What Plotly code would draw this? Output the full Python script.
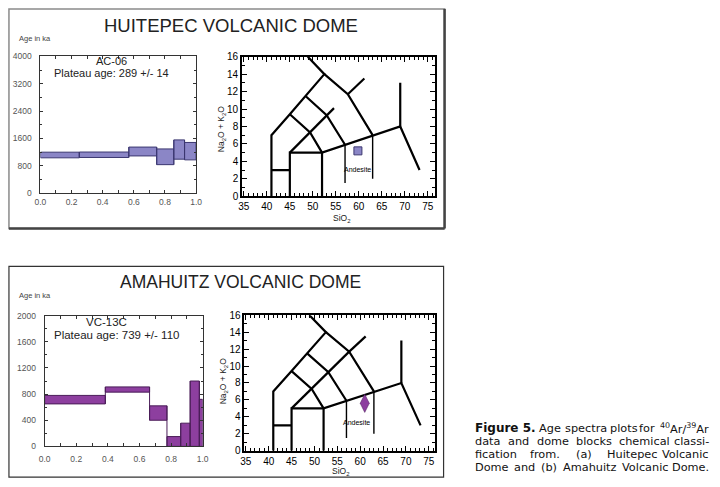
import plotly.graph_objects as go

W, H = 720, 487

# ---------------- DATA ----------------
# (a) Huitepec dome, sample AC-06: 39Ar released fraction steps and age band (ka)
huit_frac_edges = [0.0, 0.25, 0.568, 0.747, 0.857, 0.926, 1.0]
huit_age_lo = [1030, 1040, 1085, 830, 990, 970]
huit_age_hi = [1195, 1200, 1345, 1290, 1555, 1480]

# (b) Amahuitz dome, sample VC-13C
amah_frac_edges = [0.0, 0.384, 0.664, 0.774, 0.861, 0.921, 0.979, 1.0]
amah_age_lo = [650, 830, 400, 0, 0, 0, 0]
amah_age_hi = [780, 910, 620, 150, 355, 1000, 720]

age_frac_ticks = [0.0, 0.2, 0.4, 0.6, 0.8, 1.0]
huit_age_ticks = [0, 800, 1600, 2400, 3200, 4000]
amah_age_ticks = [0, 400, 800, 1200, 1600, 2000]

tas_x_ticks = [35, 40, 45, 50, 55, 60, 65, 70, 75]
tas_y_ticks = [0, 2, 4, 6, 8, 10, 12, 14, 16]

# TAS classification boundaries (SiO2, Na2O+K2O)
tas_bold_common = [
    ([41, 41, 45, 48.4, 52.5, 48.9], [0, 7, 9.4, 11.5, 14, 16]),
    ([52.5, 57.6, 63], [14, 11.7, 7]),
    ([57.6, 61.2], [11.7, 13.5]),
    ([45, 45, 52, 57, 63, 69, 73.2], [0, 5, 5, 5.9, 7, 8, 3]),
    ([69, 69], [8, 13]),
    ([41, 45], [3, 3]),
    ([52, 52], [0, 5]),
    ([45, 49.4, 52], [9.4, 7.3, 5]),
    ([48.4, 53, 57], [11.5, 9.3, 5.9]),
]
tas_thin_common = [
    ([57, 57], [1.5, 5.9]),
    ([63, 63], [2, 7]),
]
huit_extra = [([45, 49.4, 53, 54.6], [5, 7.3, 9.3, 10.1])]
amah_extra = [([45, 49.4, 53, 57.6], [5, 7.3, 9.3, 11.7])]

huit_sample_sio2, huit_sample_alk = [59.8], [5.2]
amah_sample_sio2, amah_sample_alk = [61.0], [5.6]

titles = ["HUITEPEC VOLCANIC DOME", "AMAHUITZ VOLCANIC DOME"]
sample_names = ["AC-06", "VC-13C"]
plateau_texts = ["Plateau age: 289 +/- 14", "Plateau age: 739 +/- 110"]

HUIT_FILL, HUIT_EDGE = "#8b86c6", "#3b3770"
AMAH_FILL, AMAH_EDGE = "#8d3f9f", "#4a1d58"

# ---------------- helpers ----------------
def fx(px):
    return px / W

def fy(py):
    return 1 - py / H

AR = "Liberation Sans"
fig = go.Figure()

def add_bands(edges, lo, hi, fill, edge, xa, ya):
    n = len(lo)
    centers = [(edges[i] + edges[i + 1]) / 2 for i in range(n)]
    widths = [edges[i + 1] - edges[i] for i in range(n)]
    heights = [hi[i] - lo[i] for i in range(n)]
    fig.add_trace(go.Bar(x=centers, y=heights, base=lo, width=widths,
                         marker=dict(color=fill, line=dict(color=edge, width=1)),
                         xaxis=xa, yaxis=ya, showlegend=False, hoverinfo="skip"))
    # connecting risers of the step spectrum
    for i in range(1, n):
        y0 = min(lo[i - 1], lo[i])
        y1 = max(hi[i - 1], hi[i])
        fig.add_trace(go.Scatter(x=[edges[i], edges[i]], y=[y0, y1], mode="lines",
                                 line=dict(color=edge, width=1), xaxis=xa, yaxis=ya,
                                 showlegend=False, hoverinfo="skip"))

def add_tas(xa, ya, extra):
    for xs, ys in tas_bold_common + extra:
        fig.add_trace(go.Scatter(x=xs, y=ys, mode="lines", line=dict(color="black", width=2.2),
                                 xaxis=xa, yaxis=ya, showlegend=False, hoverinfo="skip"))
    for xs, ys in tas_thin_common:
        fig.add_trace(go.Scatter(x=xs, y=ys, mode="lines", line=dict(color="black", width=1.4),
                                 xaxis=xa, yaxis=ya, showlegend=False, hoverinfo="skip"))

add_bands(huit_frac_edges, huit_age_lo, huit_age_hi, HUIT_FILL, HUIT_EDGE, "x", "y")
add_tas("x2", "y2", huit_extra)
fig.add_trace(go.Scatter(x=huit_sample_sio2, y=huit_sample_alk, mode="markers",
                         marker=dict(symbol="square", size=8, color=HUIT_FILL,
                                     line=dict(color=HUIT_EDGE, width=1)),
                         xaxis="x2", yaxis="y2", showlegend=False, hoverinfo="skip"))
add_bands(amah_frac_edges, amah_age_lo, amah_age_hi, AMAH_FILL, AMAH_EDGE, "x3", "y3")
add_tas("x4", "y4", amah_extra)
fig.add_trace(go.Scatter(x=amah_sample_sio2, y=amah_sample_alk, mode="markers",
                         marker=dict(symbol="diamond-tall", size=13, color=AMAH_FILL,
                                     line=dict(color=AMAH_EDGE, width=0.5)),
                         xaxis="x4", yaxis="y4", showlegend=False, hoverinfo="skip"))

age_tick_font = dict(family=AR, size=8.5, color="#555")
tas_tick_font = dict(family=AR, size=10, color="black")

def age_x(dom, anchor, standoff):
    return dict(domain=dom, anchor=anchor, range=[0, 1], tickvals=age_frac_ticks,
                tickformat=".1f", ticks="inside", ticklen=3, tickcolor="#333",
                minor=dict(ticks="inside", dtick=0.1, tick0=0, ticklen=3, tickcolor="#333"),
                showline=True, linecolor="#333", linewidth=1, mirror="ticks",
                ticklabelstandoff=standoff,
                showgrid=False, zeroline=False, tickfont=age_tick_font, fixedrange=True)

def age_y(dom, anchor, top, ticks):
    return dict(domain=dom, anchor=anchor, range=[0, top], tickvals=ticks,
                ticks="inside", ticklen=3, tickcolor="#333",
                minor=dict(ticks="inside", dtick=ticks[1] / 2, ticklen=2, tickcolor="#333"),
                showline=True, linecolor="#333", linewidth=1, mirror="ticks",
                ticklabelstandoff=6,
                showgrid=False, zeroline=False, tickfont=age_tick_font, fixedrange=True)

def tas_x(dom, anchor, rng):
    return dict(domain=dom, anchor=anchor, range=rng, tickvals=tas_x_ticks,
                ticks="inside", ticklen=5, tickwidth=1.2, tickcolor="black",
                minor=dict(ticks="inside", dtick=1, tick0=35, ticklen=3, tickcolor="black"),
                showline=True, linecolor="black", linewidth=1.6, mirror="ticks",
                showgrid=False, zeroline=False, tickfont=tas_tick_font, fixedrange=True)

def tas_y(dom, anchor):
    return dict(domain=dom, anchor=anchor, range=[0, 16], tickvals=tas_y_ticks,
                ticks="inside", ticklen=5, tickwidth=1.2, tickcolor="black",
                minor=dict(ticks="inside", dtick=1, ticklen=3, tickcolor="black"),
                showline=True, linecolor="black", linewidth=1.6, mirror="ticks",
                showgrid=False, zeroline=False, tickfont=tas_tick_font, fixedrange=True)

fig.update_layout(
    width=W, height=H, margin=dict(l=0, r=0, t=0, b=0),
    paper_bgcolor="white", plot_bgcolor="white", barmode="overlay", showlegend=False,
    xaxis=age_x([fx(35), fx(193.3)], "y", 1),
    yaxis=age_y([fy(191.7), fy(51.7)], "x", 4000, huit_age_ticks),
    xaxis2=tas_x([fx(240), fx(436)], "y2", [34.6, 76.5]),
    yaxis2=tas_y([fy(195), fy(52)], "x2"),
    xaxis3=age_x([fx(39.3), fx(200)], "y3", 4),
    yaxis3=age_y([fy(451.5), fy(317.5)], "x3", 2000, amah_age_ticks),
    xaxis4=tas_x([fx(242.5), fx(436)], "y4", [34.7, 76.3]),
    yaxis4=tas_y([fy(456), fy(317)], "x4"),
)

shapes = [
    dict(type="rect", xref="paper", yref="paper", x0=fx(3), x1=fx(446), y0=fy(228), y1=fy(3),
         line=dict(color="#8a8a8a", width=1.5)),
    dict(type="line", xref="paper", yref="paper", x0=fx(446), x1=fx(446), y0=fy(228), y1=fy(3),
         line=dict(color="#444", width=2.5)),
    dict(type="line", xref="paper", yref="paper", x0=fx(3), x1=fx(446), y0=fy(228), y1=fy(228),
         line=dict(color="#444", width=2.5)),
    dict(type="rect", xref="paper", yref="paper", x0=fx(3), x1=fx(445), y0=fy(483), y1=fy(267),
         line=dict(color="#333", width=1.2)),
]
fig.update_layout(shapes=shapes)

ann = []
def txt(x, y, s, size, color="#222", xanchor="center", family=AR, angle=0, xref="paper", yref="paper"):
    ann.append(dict(x=x if xref != "paper" else fx(x), y=y if yref != "paper" else fy(y),
                    xref=xref, yref=yref, text=s, showarrow=False, xanchor=xanchor,
                    yanchor="middle", textangle=angle,
                    font=dict(family=family, size=size, color=color)))

txt(229, 20, titles[0], 18.5)
txt(238.5, 283, titles[1], 17.5)
txt(11, 33, "Age in ka", 7.5, "#444", "left")
txt(11, 297, "Age in ka", 7.5, "#444", "left")
txt(107, 56, sample_names[0], 11)
txt(107, 68.5, plateau_texts[0], 11)
txt(102, 324, sample_names[1], 11.5)
txt(112, 337, plateau_texts[1], 11.5)
# TAS axis titles
txt(220, 126, "Na<sub>2</sub>O + K<sub>2</sub>O", 8.5, "#222", angle=-90)
txt(341, 217.5, "SiO<sub>2</sub>", 8.5, "#222")
txt(221.5, 385, "Na<sub>2</sub>O + K<sub>2</sub>O", 8.5, "#222", angle=-90)
txt(340, 477.5, "SiO<sub>2</sub>", 8.5, "#222")
# Andesite field labels
txt(59.8, 3.1, "Andesite", 7, "black", xref="x2", yref="y2")
txt(59.3, 3.3, "Andesite", 7, "black", xref="x4", yref="y4")

# Caption (justified, placed word by word)
CAP = "DejaVu Sans"
CAP_SIZE = 11.3
cap_lines = [
    (433, [("<b><span style='font-size:12px'>Figure 5.</span></b>", 475), ("Age", 540.5),
           ("spectra", 566.5), ("plots", 612), ("for", 642),
           ("<sup>40</sup>Ar/<sup>39</sup>Ar", None)]),
    (446.5, [("data", 475), ("and", 508.5), ("dome", 537.5), ("blocks", 577.5), ("chemical", 621.5),
             ("classi-", None)]),
    (460, [("fication", 475), ("from.", 531), ("(a)", 578), ("Huitepec", 609), ("Volcanic", None)]),
    (473.5, [("Dome", 475), ("and", 514.5), ("(b)", 542), ("Amahuitz", 564), ("Volcanic", 624),
             ("Dome.", None)]),
]
for y, words in cap_lines:
    for w, x in words:
        if x is None:
            txt(717, y, w, CAP_SIZE, "#111", "right", CAP)
        else:
            txt(x, y, w, CAP_SIZE, "#111", "left", CAP)

fig.update_layout(annotations=ann)
fig.write_html("out.html", config={"displayModeBar": False},
               post_script="document.body.style.margin='0';document.body.style.padding='0';")
